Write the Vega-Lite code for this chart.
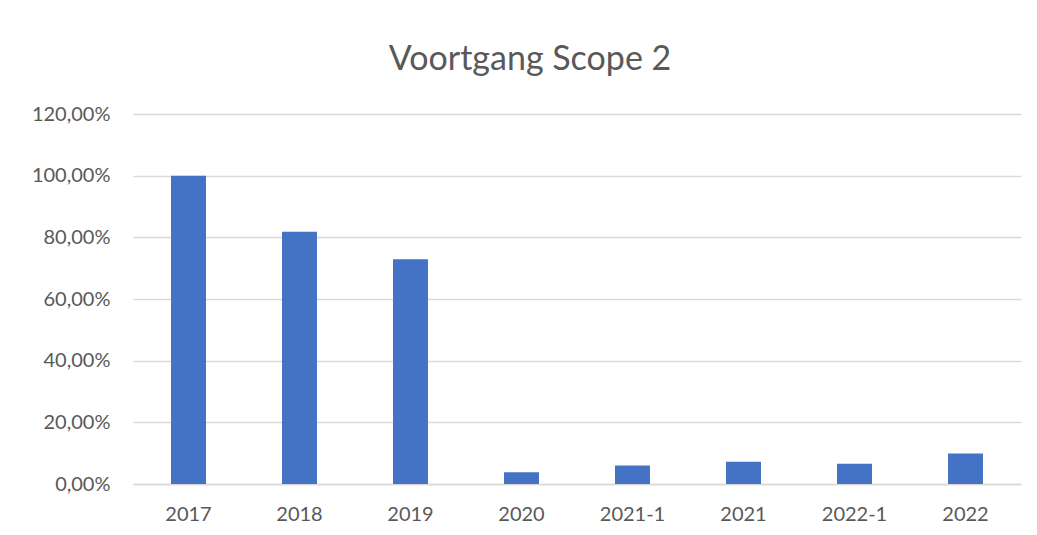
{
  "$schema": "https://vega.github.io/schema/vega-lite/v6.json",
  "autosize": {"type": "none"},
  "padding": {"left": 133, "top": 114, "right": 16, "bottom": 51},
  "width": 888,
  "height": 370,
  "background": "white",
  "title": {
    "text": "Voortgang Scope 2",
    "font": "Lato",
    "fontSize": 34,
    "fontWeight": "normal",
    "color": "#595959",
    "anchor": "middle",
    "baseline": "alphabetic",
    "offset": 0,
    "dx": -47
  },
  "data": {
    "values": [
      {"jaar": "2017", "voortgang": 1.0},
      {"jaar": "2018", "voortgang": 0.818},
      {"jaar": "2019", "voortgang": 0.729},
      {"jaar": "2020", "voortgang": 0.038},
      {"jaar": "2021-1", "voortgang": 0.06},
      {"jaar": "2021", "voortgang": 0.072},
      {"jaar": "2022-1", "voortgang": 0.066},
      {"jaar": "2022", "voortgang": 0.099}
    ]
  },
  "mark": {"type": "bar", "color": "#4472C4"},
  "encoding": {
    "x": {
      "field": "jaar",
      "type": "nominal",
      "sort": null,
      "scale": {"paddingInner": 0.685, "paddingOuter": 0.3425},
      "axis": {
        "title": null,
        "labelAngle": 0,
        "ticks": false,
        "domainColor": "#d9d9d9",
        "domainWidth": 1.5,
        "labelFont": "Lato",
        "labelFontSize": 20,
        "labelColor": "#595959",
        "labelPadding": 20
      }
    },
    "y": {
      "field": "voortgang",
      "type": "quantitative",
      "scale": {"domain": [0, 1.2], "nice": false},
      "axis": {
        "title": null,
        "values": [0, 0.2, 0.4, 0.6, 0.8, 1.0, 1.2],
        "labelExpr": "replace(format(datum.value, '.2%'), '.', ',')",
        "domain": false,
        "ticks": false,
        "gridColor": "#d9d9d9",
        "gridWidth": 1.5,
        "labelFont": "Lato",
        "labelFontSize": 20,
        "labelColor": "#595959",
        "labelPadding": 23
      }
    }
  },
  "config": {"view": {"stroke": null}}
}
